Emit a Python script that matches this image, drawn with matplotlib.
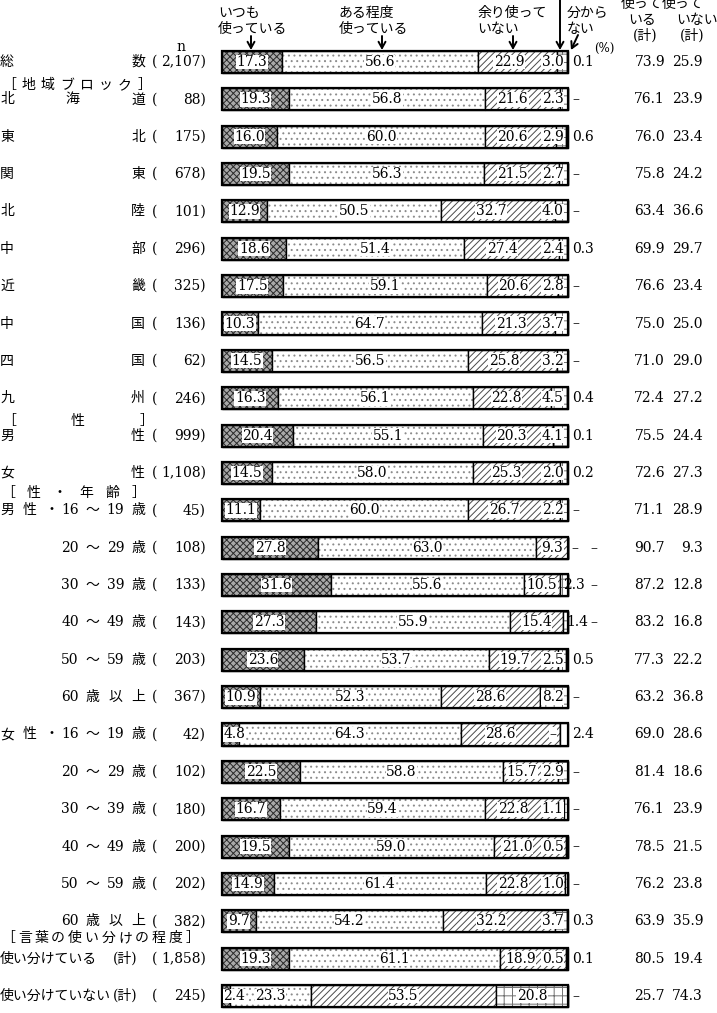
import re
import numpy as np
import matplotlib
matplotlib.use('Agg')
import matplotlib.pyplot as plt

plt.rcParams['font.family'] = ['DejaVu Serif', 'Noto Sans CJK JP']
plt.rcParams['hatch.linewidth'] = 0.7

# ---------------- data ----------------
categories = ["いつも\n使っている", "ある程度\n使っている", "余り使って\nいない", "全く使っていない", "分から\nない"]
total_headers = ["使って\nいる\n(計)", "使って\nいない\n(計)"]
section_titles = ["［地域ブロック］", "［性］", "［性・年齢］", "［言葉の使い分けの程度］"]
row_labels = ["総数", "北海道", "東北", "関東", "北陸", "中部", "近畿", "中国", "四国", "九州",
              "男性", "女性",
              "男性・16～19歳", "20～29歳", "30～39歳", "40～49歳", "50～59歳", "60歳以上",
              "女性・16～19歳", "20～29歳", "30～39歳", "40～49歳", "50～59歳", "60歳以上",
              "使い分けている(計)", "使い分けていない(計)"]
n_labels = ["2,107", "88", "175", "678", "101", "296", "325", "136", "62", "246",
            "999", "1,108",
            "45", "108", "133", "143", "203", "367",
            "42", "102", "180", "200", "202", "382",
            "1,858", "245"]
always = [17.3, 19.3, 16.0, 19.5, 12.9, 18.6, 17.5, 10.3, 14.5, 16.3, 20.4, 14.5,
          11.1, 27.8, 31.6, 27.3, 23.6, 10.9, 4.8, 22.5, 16.7, 19.5, 14.9, 9.7, 19.3, 2.4]
somewhat = [56.6, 56.8, 60.0, 56.3, 50.5, 51.4, 59.1, 64.7, 56.5, 56.1, 55.1, 58.0,
            60.0, 63.0, 55.6, 55.9, 53.7, 52.3, 64.3, 58.8, 59.4, 59.0, 61.4, 54.2, 61.1, 23.3]
rarely = [22.9, 21.6, 20.6, 21.5, 32.7, 27.4, 20.6, 21.3, 25.8, 22.8, 20.3, 25.3,
          26.7, 9.3, 10.5, 15.4, 19.7, 28.6, 28.6, 15.7, 22.8, 21.0, 22.8, 32.2, 18.9, 53.5]
never = [3.0, 2.3, 2.9, 2.7, 4.0, 2.4, 2.8, 3.7, 3.2, 4.5, 4.1, 2.0,
         2.2, None, 2.3, 1.4, 2.5, 8.2, None, 2.9, 1.1, 0.5, 1.0, 3.7, 0.5, 20.8]
unknown = [0.1, None, 0.6, None, None, 0.3, None, None, None, 0.4, 0.1, 0.2,
           None, None, None, None, 0.5, None, 2.4, None, None, None, None, 0.3, 0.1, None]
use_total = [73.9, 76.1, 76.0, 75.8, 63.4, 69.9, 76.6, 75.0, 71.0, 72.4, 75.5, 72.6,
             71.1, 90.7, 87.2, 83.2, 77.3, 63.2, 69.0, 81.4, 76.1, 78.5, 76.2, 63.9, 80.5, 25.7]
nonuse_total = [25.9, 23.9, 23.4, 24.2, 36.6, 29.7, 23.4, 25.0, 29.0, 27.2, 24.4, 27.3,
                28.9, 9.3, 12.8, 16.8, 22.2, 36.8, 28.6, 18.6, 23.9, 21.5, 23.8, 35.9, 19.4, 74.3]

# ---------------- layout / style ----------------
W, H = 717, 1013
BX0, BX1 = 222, 568
Y0, DY = 62, 37.36
FS = 10
NFS = 10
label_kind = ['spread'] * 12 + ['age'] * 12 + ['plain'] * 2
never_mode = ['in'] * 26
for k in (13, 14, 15):
    never_mode[k] = 'out'
section_layout = [(85, 9, 144), (421, 9, 146), (493, 8, 138), (938, 8, 192)]

fig = plt.figure(figsize=(W / 100, H / 100), dpi=100)
ov = fig.add_axes([0, 0, 1, 1])
ov.set_xlim(0, W)
ov.set_ylim(H, 0)
ov.axis('off')
ax = fig.add_axes([BX0 / W, 0, (BX1 - BX0) / W, 1])
ax.set_xlim(0, 100)
ax.set_ylim((H - Y0) / DY, -Y0 / DY)
ax.axis('off')

nrows = len(row_labels)
ypos = np.arange(nrows)
series = [always, somewhat, rarely, never, unknown]
vals = np.array([[0.0 if v is None else v for v in s] for s in series])
styles = [dict(fc='#a9a9a9', hc='#2a2a2a', hatch='xxxxx'),
          dict(fc='white', hc='#8c8c8c', hatch='...'),
          dict(fc='white', hc='#4a4a4a', hatch='/////'),
          dict(fc='white', hc='#707070', hatch='++'),
          dict(fc='white', hc='white', hatch=None)]
BH = 0.59
left = np.zeros(nrows)
for k, st in enumerate(styles):
    ax.barh(ypos, vals[k], left=left, height=BH, color=st['fc'], edgecolor=st['hc'],
            hatch=st['hatch'], linewidth=0, clip_on=False)
    ax.barh(ypos, vals[k], left=left, height=BH, fill=False, edgecolor='black',
            linewidth=1.0, clip_on=False)
    left = left + vals[k]
ax.barh(ypos, left, height=BH, fill=False, edgecolor='black', linewidth=1.6, clip_on=False)


def fmt(v):
    return '–' if v is None else f'{v:.1f}'


box = dict(facecolor='white', edgecolor='none', pad=0.3)
for i in range(nrows):
    a, b, c, d, e = vals[:, i]
    s2 = a
    s3 = a + b
    s4 = s3 + c
    ax.text(max(a / 2, 3.6), i, fmt(always[i]), ha='center', va='center', fontsize=NFS, bbox=box)
    ax.text(s2 + b / 2, i, fmt(somewhat[i]), ha='center', va='center', fontsize=NFS, bbox=box)
    if never_mode[i] == 'in':
        x3 = (s3 + min(s4, 92.0)) / 2
        ax.text(x3, i, fmt(rarely[i]), ha='center', va='center', fontsize=NFS, bbox=box)
        ax.text(min(s4 + d / 2, 95.6), i, fmt(never[i]), ha='center', va='center',
                fontsize=NFS, bbox=box)
        ax.text(101.3, i, fmt(unknown[i]), ha='left', va='center', fontsize=NFS, clip_on=False)
    else:
        ax.text(s3 + c / 2, i, fmt(rarely[i]), ha='center', va='center', fontsize=NFS, bbox=box)
        ax.text(s4 + 1.0, i, fmt(never[i]), ha='left', va='center', fontsize=NFS, clip_on=False)
        ax.text(106.5, i, fmt(unknown[i]), ha='left', va='center', fontsize=NFS, clip_on=False)


def spread(tokens, x0, x1, y):
    n = len(tokens)
    xs = [x0] if n == 1 else np.linspace(x0, x1, n)
    for t, x in zip(tokens, xs):
        ov.text(x, y, t, ha='center', va='center', fontsize=FS)


def tokens_of(s):
    return re.findall(r'\d+|.', s)


for i, lab in enumerate(row_labels):
    y = Y0 + i * DY
    kind = label_kind[i]
    if kind == 'spread':
        spread(list(lab), 7, 138, y)
    elif kind == 'age':
        if '・' in lab:
            pre, post = lab.split('・')
            spread(list(pre) + ['・'], 7, 52, y)
        else:
            post = lab
        spread(tokens_of(post), 70, 138, y)
    else:
        name, tail = lab.split('(')
        ov.text(0, y, name, ha='left', va='center', fontsize=FS)
        ov.text(125, y, '(' + tail, ha='center', va='center', fontsize=FS)
    ov.text(155, y, '(', ha='center', va='center', fontsize=FS)
    ov.text(206, y, n_labels[i] + ')', ha='right', va='center', fontsize=NFS)
    ov.text(665, y, fmt(use_total[i]), ha='right', va='center', fontsize=NFS)
    ov.text(703, y, fmt(nonuse_total[i]), ha='right', va='center', fontsize=NFS)

for title, (y, x0, x1) in zip(section_titles, section_layout):
    spread(list(title), x0, x1, y)

# header
ov.text(181, 47, 'n', ha='center', va='center', fontsize=FS)
head_pos = [(218, 251), (339, 382), (477, 513), None, (567, None)]
for cat, hp in zip(categories, head_pos):
    if hp is None:
        continue
    for j, line in enumerate(cat.split('\n')):
        ov.text(hp[0], 13 + 16 * j, line, ha='left', va='center', fontsize=FS)
    if hp[1] is not None:
        ov.annotate('', xy=(hp[1], 50), xytext=(hp[1], 36),
                    arrowprops=dict(arrowstyle='->,head_length=0.45,head_width=0.25', lw=1.4,
                                    color='black', shrinkA=0, shrinkB=0))
ov.annotate('', xy=(560, 50), xytext=(560, -2),
            arrowprops=dict(arrowstyle='->,head_length=0.45,head_width=0.25', lw=1.4,
                            color='black', shrinkA=0, shrinkB=0))
ov.annotate('', xy=(571, 50), xytext=(578, 35),
            arrowprops=dict(arrowstyle='->,head_length=0.45,head_width=0.25', lw=1.4,
                            color='black', shrinkA=0, shrinkB=0))
ov.text(604, 48, '(%)', ha='center', va='center', fontsize=8.5)
col_centers = [(642, 642, 645), (683, 697, 692)]
for hdr, cx in zip(total_headers, col_centers):
    for j, line in enumerate(hdr.split('\n')):
        ov.text(cx[j], 4 + 16 * j, line, ha='center', va='center', fontsize=FS)

fig.savefig('out.png', dpi=100)
